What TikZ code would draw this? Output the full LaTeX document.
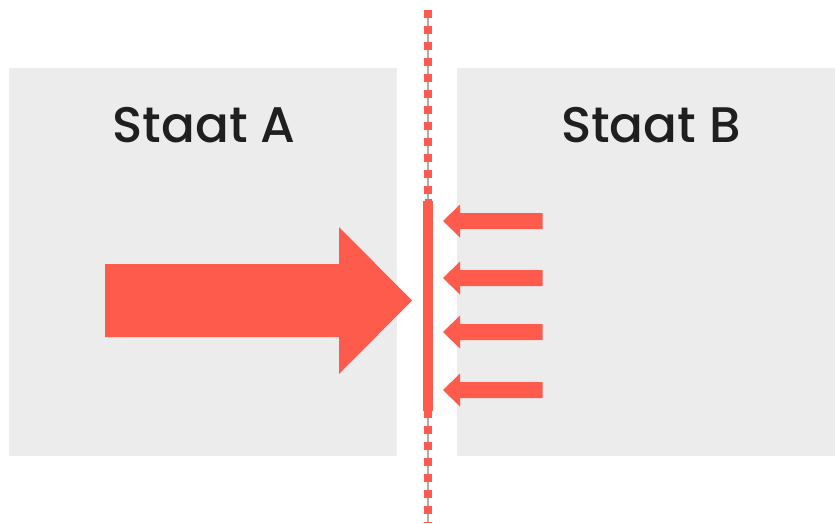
\documentclass[tikz,border=0pt]{standalone}
\usepackage{fontspec}
\setmainfont{Poppins}
\newfontfamily\labelfont{Poppins Medium}
\definecolor{boxgray}{HTML}{ECECEC}
\definecolor{alarm}{HTML}{FF5B4D}
\definecolor{rule}{HTML}{ADADAD}
\begin{document}
\begin{tikzpicture}[x=1pt,y=-1pt,
  statebox/.style={fill=boxgray,draw=none,inner sep=0pt,anchor=north west},
  statelabel/.style={font=\labelfont\fontsize{50}{50}\selectfont,text=black!88},
  smallarrow/.style={fill=alarm,draw=none}]
\useasboundingbox (0,0) rectangle (835,523);
% the two states
\node[statebox,minimum width=388pt,minimum height=388pt] (A) at (9,68) {};
\node[statebox,minimum width=378pt,minimum height=388pt] (B) at (457,68) {};
\node[statelabel] (la) at (204,125) {Staat A};
\node[statelabel] (lb) at (651,125) {Staat B};
% border line
\coordinate (top) at (428,10);
\coordinate (bot) at (428,523);
\draw[rule,line width=2.5pt] (top) -- (bot);
\draw[alarm,line width=8pt,dash pattern=on 8pt off 8pt] (top) -- (bot);
% wall
\fill[alarm] (423,201) rectangle (433,411);
\fill[alarm] (424.5,199) rectangle (431.5,413);
% big arrow from A
\fill[alarm] (105,264) -- (339,264) -- (339,227) -- (412,300.5) -- (339,374) -- (339,337) -- (105,337) -- cycle;
% small arrows from B
\foreach \yc in {221,278,332,390}{
  \fill[smallarrow] (542.5,\yc-8) -- (460,\yc-8) -- (460,\yc-16.5) -- (443,\yc) -- (460,\yc+16.5) -- (460,\yc+8) -- (542.5,\yc+8) -- cycle;
}
\end{tikzpicture}
\end{document}
